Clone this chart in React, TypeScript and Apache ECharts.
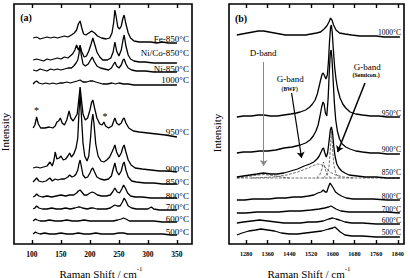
import React, { useEffect, useRef } from "react";
import * as echarts from "echarts";

const FONT = '"Liberation Serif", "Times New Roman", serif';

// ---------- Panel (a) ----------
const ticksA = [100, 150, 200, 250, 300, 350];
const namesA = ["Fe-850°C", "Ni/Co-850°C", "Ni-850°C", "1000°C", "950°C", "900°C", "850°C", "800°C", "700°C", "600°C", "500°C"];
const offsetsA = [206, 184, 174, 160, 116, 76, 62, 47, 35, 23, 10];
const labelYA = [205, 191, 175, 164, 112, 75, 62, 48, 37, 25, 12];
const labelXA = 370.7;

const aFe = [[102,0],[108,1],[114,-1],[120,0],[126,1],[132,0],[138,1],[144,0],[150,1],[156,2],[162,1],[168,3],[173,5],[177,8],[180,14],[183,17],[186,10],[189,4],[193,3],[198,5],[203,7],[208,5],[213,2],[220,0],[228,-1],[234,0],[238,5],[241,16],[243,28],[245,22],[248,11],[251,9],[254,12],[257,20],[259,23],[262,14],[266,5],[270,0],[276,-3],[285,-4],[295,-4],[305,-4],[315,-5],[325,-4],[335,-5],[342,-5],[350,-5]];
const aNiCo = [[102,0],[108,1],[114,0],[120,-1],[126,1],[132,0],[138,1],[144,2],[150,1],[156,3],[162,2],[166,4],[170,6],[174,10],[177,15],[180,10],[183,14],[186,8],[190,3],[194,4],[198,9],[202,16],[205,22],[208,16],[212,8],[217,3],[222,0],[230,0],[236,2],[240,8],[243,18],[246,9],[250,4],[254,10],[257,20],[259,25],[262,14],[266,5],[270,1],[276,-1],[285,-2],[295,-2],[310,-3],[325,-3],[340,-3],[350,-3]];
const aNi = [[102,0],[108,-1],[114,1],[120,0],[126,-1],[132,1],[138,0],[144,1],[150,0],[156,1],[162,2],[168,2],[172,4],[176,7],[179,10],[181,16],[183,25],[185,15],[188,6],[192,4],[197,6],[201,10],[204,13],[207,9],[212,4],[218,2],[225,1],[232,0],[237,2],[241,6],[243,8],[246,4],[250,2],[254,5],[257,10],[259,11],[262,6],[266,2],[272,0],[280,-1],[295,-1],[310,-2],[325,-2],[340,-2],[350,-2]];
const a1000 = [[102,0],[105,2],[108,3],[112,1],[118,0],[124,1],[130,0],[136,1],[142,0],[148,1],[154,1],[160,2],[166,1],[172,2],[178,3],[183,4],[188,2],[194,2],[200,3],[205,3],[210,2],[216,1],[222,0],[230,0],[238,1],[244,0],[250,1],[258,0],[266,0],[276,-1],[290,-1],[305,-1],[320,-1],[335,-1],[350,-1]];
const a950 = [[102,0],[105,3],[108,11],[111,4],[115,0],[122,0],[130,1],[136,0],[140,2],[143,6],[146,7],[149,10],[152,5],[156,3],[160,8],[164,17],[167,10],[171,7],[175,11],[178,14],[181,30],[183,41],[185,30],[188,14],[192,8],[196,10],[200,18],[203,26],[205,28],[208,20],[212,10],[217,4],[221,3],[224,6],[227,2],[232,0],[238,2],[241,7],[243,10],[246,5],[250,3],[254,5],[257,9],[259,10],[262,5],[267,0],[275,-3],[285,-4],[300,-5],[315,-6],[330,-7],[340,-8],[350,-9]];
const a900 = [[102,0],[108,1],[114,0],[120,1],[126,2],[131,6],[135,2],[138,8],[140,16],[143,9],[147,10],[150,12],[154,8],[158,9],[162,12],[165,15],[168,11],[172,14],[176,20],[179,30],[181,55],[183,74],[185,55],[188,25],[191,12],[195,7],[198,12],[201,30],[203,46],[205,54],[207,44],[210,24],[214,12],[219,7],[224,6],[229,8],[234,11],[238,16],[241,20],[243,23],[246,16],[250,11],[254,15],[257,21],[259,23],[262,16],[266,8],[271,3],[278,0],[290,-1],[305,-2],[320,-3],[335,-3],[350,-4]];
const a850 = [[102,0],[105,2],[108,4],[112,1],[118,0],[124,1],[131,4],[135,1],[140,3],[145,2],[150,3],[156,3],[162,5],[165,7],[169,5],[173,6],[176,8],[179,12],[181,18],[183,22],[185,16],[188,7],[192,4],[196,5],[200,9],[203,13],[205,14],[208,10],[212,5],[218,3],[225,2],[232,3],[237,6],[241,15],[243,19],[246,11],[250,7],[254,11],[257,18],[259,20],[262,12],[266,5],[272,1],[280,0],[295,-1],[310,-1],[325,-2],[340,-2],[350,-2]];
const a800 = [[102,0],[105,1],[108,3],[112,1],[118,0],[126,1],[134,0],[142,1],[150,2],[158,1],[165,2],[172,2],[177,4],[180,6],[183,7],[186,5],[190,2],[195,2],[200,4],[204,5],[208,4],[213,2],[220,1],[228,1],[235,2],[239,5],[243,9],[247,5],[251,4],[255,8],[258,12],[261,9],[265,4],[270,1],[278,0],[290,0],[305,-1],[320,-1],[335,-1],[350,-1]];
const a700 = [[102,0],[105,1],[108,3],[112,1],[118,0],[126,0],[134,1],[142,0],[150,0],[158,1],[166,0],[174,1],[180,2],[183,2],[187,1],[195,0],[202,1],[206,1],[212,0],[220,0],[228,0],[235,1],[240,3],[243,4],[247,3],[252,3],[256,7],[259,11],[262,8],[266,3],[272,1],[280,0],[290,0],[300,0],[306,2],[310,0],[320,-1],[335,-1],[350,-1]];
const a600 = [[102,0],[106,2],[109,1],[114,0],[122,0],[130,1],[140,0],[150,0],[160,1],[170,0],[180,0],[190,1],[200,0],[210,0],[220,0],[230,0],[240,0],[248,1],[254,2],[258,3],[262,2],[268,0],[280,0],[295,0],[310,0],[325,-1],[340,-1],[350,-1]];
const a500 = [[102,0],[106,2],[109,1],[114,0],[122,1],[130,0],[140,0],[150,1],[160,0],[170,0],[180,1],[190,0],[200,0],[210,1],[220,0],[230,0],[240,0],[250,1],[258,1],[265,0],[280,0],[295,0],[310,0],[325,0],[340,-1],[350,-1]];
const tracesA = [aFe, aNiCo, aNi, a1000, a950, a900, a850, a800, a700, a600, a500];
const starsA = [[108, 134], [226, 128]];

// ---------- Panel (b) ----------
const ticksB = [1280, 1360, 1440, 1520, 1600, 1680, 1760, 1840];
const namesB = ["1000°C", "950°C", "900°C", "850°C", "800°C", "700°C", "600°C", "500°C"];
const offsetsB = [209, 127, 91, 67, 44, 31, 21, 9];
const labelYB = [212, 131, 95, 72, 48, 35, 24, 12];
const labelXB = 1852;

const b1000 = [[1246,0],[1265,1],[1285,2],[1305,3],[1325,4],[1345,4],[1365,3],[1385,2],[1405,1],[1425,0],[1450,0],[1475,0],[1500,0],[1520,1],[1540,2],[1555,3],[1568,6],[1578,9],[1586,13],[1592,17],[1597,15],[1603,10],[1612,5],[1625,2],[1645,1],[1670,0],[1700,-1],[1730,-1],[1760,-1],[1790,-2],[1820,-2],[1848,-2]];
const b950 = [[1246,0],[1270,1],[1300,1],[1325,2],[1345,2],[1370,1],[1395,1],[1420,2],[1445,3],[1465,4],[1480,5],[1500,7],[1515,10],[1525,13],[1535,17],[1543,23],[1550,31],[1556,38],[1561,43],[1565,44],[1570,41],[1575,38],[1580,42],[1584,55],[1588,75],[1592,90],[1595,92],[1598,85],[1602,68],[1607,50],[1612,38],[1618,28],[1627,19],[1637,13],[1648,9],[1664,5],[1685,3],[1710,2],[1740,1],[1770,1],[1800,0],[1825,0],[1848,0]];
const b900 = [[1246,0],[1270,1],[1300,1],[1330,2],[1360,2],[1390,3],[1420,5],[1450,6],[1480,8],[1500,10],[1516,13],[1528,17],[1538,22],[1546,28],[1553,37],[1559,46],[1564,51],[1568,49],[1573,40],[1578,37],[1583,55],[1587,80],[1591,100],[1594,103],[1597,95],[1601,75],[1606,50],[1611,33],[1617,22],[1625,14],[1635,9],[1648,6],[1664,4],[1685,2],[1710,1],[1740,0],[1770,0],[1800,-1],[1825,-1],[1848,-1]];
const b850 = [[1246,0],[1270,1],[1295,2],[1320,3],[1344,4],[1370,3],[1395,3],[1420,4],[1445,6],[1470,8],[1495,11],[1515,13],[1530,15],[1542,18],[1550,21],[1557,25],[1562,28],[1566,29],[1571,24],[1576,20],[1581,24],[1586,35],[1591,47],[1595,50],[1599,45],[1604,30],[1609,20],[1615,13],[1623,9],[1633,6],[1645,4],[1660,2],[1690,1],[1720,0],[1760,0],[1800,-1],[1848,-1]];
const b800 = [[1246,0],[1275,0],[1305,1],[1335,1],[1365,1],[1395,2],[1425,2],[1455,3],[1485,3],[1510,4],[1530,5],[1545,7],[1557,8],[1565,10],[1572,8],[1578,8],[1584,13],[1590,17],[1595,15],[1602,12],[1610,8],[1620,6],[1632,4],[1650,2],[1675,1],[1710,1],[1750,1],[1800,0],[1848,0]];
const b700 = [[1246,0],[1280,0],[1320,1],[1360,1],[1400,1],[1440,2],[1480,2],[1520,3],[1550,4],[1570,5],[1585,6],[1593,7],[1600,6],[1612,4],[1630,2],[1660,1],[1700,1],[1750,1],[1800,1],[1848,0]];
const b600 = [[1246,0],[1270,1],[1300,2],[1330,3],[1360,2],[1390,1],[1420,0],[1450,0],[1480,0],[1510,1],[1540,1],[1565,2],[1585,4],[1600,5],[1612,4],[1625,3],[1645,1],[1670,0],[1710,0],[1760,-1],[1800,-1],[1848,-1]];
const b500 = [[1246,0],[1265,2],[1290,4],[1315,5],[1335,6],[1360,5],[1385,4],[1410,2],[1440,1],[1470,1],[1500,2],[1530,3],[1560,4],[1585,6],[1600,7],[1608,8],[1616,6],[1628,3],[1645,0],[1670,-1],[1710,-1],[1760,-2],[1800,-2],[1848,-2]];
const tracesB = [b1000, b950, b900, b850, b800, b700, b600, b500];

// fitted components of the 850°C spectrum (relative to its offset)
const c850Base = [[1246,-1],[1848,-1]];
const c850D = [[1246,-1],[1280,0],[1310,1.5],[1345,2.5],[1380,1.5],[1410,0],[1440,-1]];
const c850BWF = [[1300,-1],[1380,0],[1430,2],[1470,5],[1500,8],[1525,11],[1545,13],[1560,12],[1575,9],[1590,5],[1610,2],[1640,0],[1680,-1]];
const c850Gm = [[1540,-1],[1552,2],[1560,8],[1566,15],[1572,8],[1580,2],[1592,-1]];
const c850Gp = [[1565,-1],[1578,2],[1586,10],[1591,28],[1595,46],[1599,30],[1604,12],[1612,3],[1628,-1]];
const components850 = [c850Base, c850D, c850BWF, c850Gm, c850Gp];

// annotations (shift, intensity)
const annoTexts = [
  { text: "D-band", pos: [1343, 191], size: 9, weight: "normal" },
  { text: "G-band", pos: [1443, 165], size: 9, weight: "normal" },
  { text: "(BWF)", pos: [1441, 155], size: 5.5, weight: "bold" },
  { text: "G-band", pos: [1727, 177], size: 9, weight: "normal" },
  { text: "(Semicon.)", pos: [1723, 169], size: 6, weight: "bold" },
];
const arrowsB = [
  { from: [1345, 182], to: [1345, 78], color: "#888", width: 1 },
  { from: [1448, 151], to: [1485, 86], color: "#000", width: 1.2 },
  { from: [1719, 161], to: [1618, 92], color: "#000", width: 1.5 },
];

function shift(points: number[][], off: number) {
  return points.map(([x, h]) => [x, off + h]);
}

export default function App() {
  const ref = useRef<HTMLDivElement>(null);
  useEffect(() => {
    if (!ref.current) return;
    const chart = echarts.init(ref.current, undefined, { renderer: "svg" });

    const lineSeries = (data: number[][], xi: number, yi: number, extra: any = {}) => ({
      type: "line",
      xAxisIndex: xi,
      yAxisIndex: yi,
      data,
      symbol: "none",
      showSymbol: false,
      silent: true,
      lineStyle: { color: "#000", width: 1.3 },
      z: 3,
      ...extra,
    });

    const series: any[] = [];
    tracesA.forEach((t, i) => series.push(lineSeries(shift(t, offsetsA[i]), 0, 0)));
    tracesB.forEach((t, i) => {
      const extra: any = {};
      if (i === 3) {
        extra.markLine = {
          silent: true,
          symbol: ["none", "arrow"],
          symbolSize: 6,
          label: { show: false },
          data: arrowsB.map((a) => [
            { coord: a.from, lineStyle: { color: a.color, width: a.width, type: "solid" } },
            { coord: a.to },
          ]),
        };
      }
      series.push(lineSeries(shift(t, offsetsB[i]), 2, 1, extra));
    });
    components850.forEach((c) =>
      series.push(
        lineSeries(shift(c, offsetsB[3]), 2, 1, {
          lineStyle: { color: "#333", width: 0.7, type: "dashed" },
          z: 2,
        })
      )
    );

    const labelScatter = (items: any[], xi: number, yi: number, size: number) => ({
      type: "scatter",
      xAxisIndex: xi,
      yAxisIndex: yi,
      symbolSize: 0,
      silent: true,
      z: 5,
      itemStyle: { opacity: 1 },
      label: {
        show: true,
        position: "left",
        distance: 0,
        formatter: "{b}",
        fontFamily: FONT,
        fontSize: size,
        color: "#000",
      },
      data: items,
    });
    series.push(labelScatter(namesA.map((n, i) => ({ name: n, value: [labelXA, labelYA[i]] })), 0, 0, 9));
    series.push(labelScatter(namesB.map((n, i) => ({ name: n, value: [labelXB, labelYB[i]] })), 2, 1, 7.5));
    series.push({
      type: "scatter",
      xAxisIndex: 0,
      yAxisIndex: 0,
      symbolSize: 0,
      silent: true,
      itemStyle: { opacity: 1 },
      label: { show: true, position: "inside", formatter: "*", fontFamily: FONT, fontSize: 10, color: "#000" },
      data: starsA.map((s) => ({ value: s })),
    });
    series.push({
      type: "scatter",
      xAxisIndex: 2,
      yAxisIndex: 1,
      symbolSize: 0,
      silent: true,
      itemStyle: { opacity: 1 },
      data: annoTexts.map((a) => ({
        name: a.text,
        value: a.pos,
        label: { show: true, position: "inside", formatter: "{b}", fontFamily: FONT, fontSize: a.size, fontWeight: a.weight, color: "#000" },
      })),
    });

    const xBottom = (grid: number, min: number, max: number, ticks: number[], fs: number) => ({
      type: "value",
      gridIndex: grid,
      position: "bottom",
      min,
      max,
      axisLine: { show: false },
      splitLine: { show: false },
      axisTick: { show: true, inside: true, length: 4, customValues: ticks, lineStyle: { color: "#000", width: 1.4 } },
      axisLabel: {
        show: true,
        customValues: ticks,
        margin: 6,
        formatter: (v: number) => String(v),
        fontFamily: FONT,
        fontSize: fs,
        fontWeight: "bold",
        color: "#000",
      },
    });
    const xTop = (grid: number, min: number, max: number, ticks: number[]) => ({
      type: "value",
      gridIndex: grid,
      position: "top",
      min,
      max,
      axisLine: { show: false },
      splitLine: { show: false },
      axisTick: { show: true, inside: true, length: 4, customValues: ticks, lineStyle: { color: "#000", width: 1.4 } },
      axisLabel: { show: false },
    });
    const yHidden = (grid: number) => ({ type: "value", gridIndex: grid, min: 0, max: 240, show: false });

    const axisTitle = (x: number) => ({
      type: "text",
      x,
      y: 272,
      style: {
        text: "{m|Raman Shift / cm}{s|-1}",
        textAlign: "center",
        textVerticalAlign: "middle",
        rich: {
          m: { fontFamily: FONT, fontSize: 11, lineHeight: 14, verticalAlign: "bottom", fill: "#000" },
          s: { fontFamily: FONT, fontSize: 7, lineHeight: 14, verticalAlign: "top", fill: "#000" },
        },
      },
    });
    const intensity = (x: number, y: number) => ({
      type: "text",
      x,
      y,
      rotation: Math.PI / 2,
      style: { text: "Intensity", font: `11px ${FONT}`, fill: "#000", textAlign: "center", textVerticalAlign: "middle" },
    });
    const panelLabel = (text: string, x: number, y: number) => ({
      type: "text",
      x,
      y,
      style: { text, font: `bold 10px ${FONT}`, fill: "#000", textAlign: "center", textVerticalAlign: "middle" },
    });

    chart.setOption({
      animation: false,
      backgroundColor: "#fff",
      grid: [
        { left: 14, top: 4, width: 178, height: 240, show: true, borderColor: "#000", borderWidth: 1.6, backgroundColor: "transparent" },
        { left: 229, top: 4, width: 175, height: 240, show: true, borderColor: "#000", borderWidth: 1.6, backgroundColor: "transparent" },
      ],
      xAxis: [
        xBottom(0, 69, 376, ticksA, 7.5),
        xTop(0, 69, 376, ticksA),
        xBottom(1, 1217, 1863, ticksB, 6.2),
        xTop(1, 1217, 1863, ticksB),
      ],
      yAxis: [yHidden(0), yHidden(1)],
      series,
      graphic: [
        axisTitle(101),
        axisTitle(309),
        intensity(5, 132),
        intensity(217, 133),
        panelLabel("(a)", 26, 17),
        panelLabel("(b)", 241, 18),
      ],
    });
    return () => chart.dispose();
  }, []);
  return <div ref={ref} style={{ position: "fixed", left: 0, top: 0, width: 410, height: 278, background: "#fff" }} />;
}
